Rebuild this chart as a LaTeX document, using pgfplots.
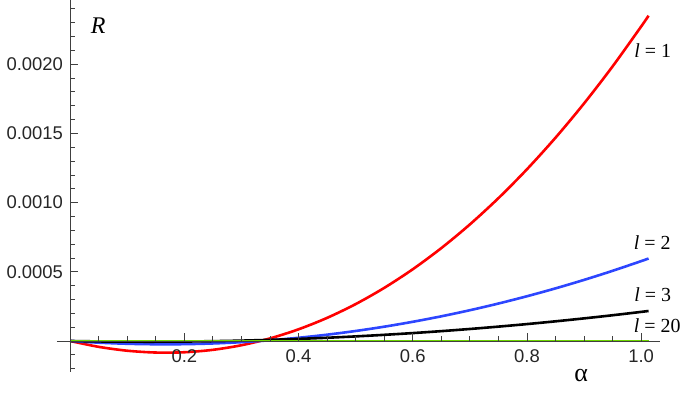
\documentclass[border=0pt]{standalone}
\usepackage{pgfplots}
\pgfplotsset{compat=1.18}
\usepackage{fontspec}
\setmainfont{Liberation Sans}
\newfontfamily\timesf{Liberation Serif}

\definecolor{cRed}{RGB}{255,0,0}
\definecolor{cBlue}{RGB}{45,70,255}
\definecolor{cGreen}{RGB}{110,215,0}

% alpha, R for l = 1, 2, 3, 20
\pgfplotstableread{
a      l1          l2          l3          l20
0      0           0           0           0
0.05  -0.0000424  -0.0000122  -0.0000032   0
0.10  -0.0000704  -0.0000202  -0.0000049   0
0.15  -0.0000835  -0.0000237  -0.0000052   0
0.20  -0.0000815  -0.0000230  -0.0000040   0
0.25  -0.0000640  -0.0000179  -0.0000014   0
0.30  -0.0000307  -0.0000086   0.0000026   0
0.35   0.0000186   0.0000051   0.0000081   0
0.40   0.0000844   0.0000232   0.0000150   0
0.45   0.0001669   0.0000455   0.0000233   0
0.50   0.0002665   0.0000722   0.0000331   0
0.55   0.0003835   0.0001032   0.0000444   0
0.60   0.0005182   0.0001386   0.0000570   0
0.65   0.0006710   0.0001782   0.0000711   0
0.70   0.0008421   0.0002222   0.0000867   0
0.75   0.0010319   0.0002705   0.0001037   0
0.80   0.0012407   0.0003232   0.0001221   0
0.85   0.0014689   0.0003801   0.0001420   0
0.90   0.0017166   0.0004414   0.0001633   0
0.95   0.0019844   0.0005070   0.0001860   0
1.00   0.0022725   0.0005770   0.0002102   0
1.013  0.0023507   0.0005958   0.0002168   0
}\data

\begin{document}
\begin{tikzpicture}
\useasboundingbox (-57bp,-24.3bp) rectangle (632bp,371.7bp);
\begin{axis}[
  at={(0,0)}, anchor=south west,
  scale only axis, width=603bp, height=371.7bp,
  xmin=-0.023, xmax=1.033, ymin=-0.000222, ymax=0.002464,
  axis lines=middle, axis on top, clip=false,
  axis line style={-, black!75, line width=0.8bp},
  tick align=inside,
  major tick length=8bp, minor tick length=4.5bp,
  every tick/.style={black!75, line width=0.8bp},
  scaled x ticks=false, scaled y ticks=false,
  xtick={0.2,0.4,0.6,0.8,1.0},
  xticklabels={0.2,0.4,0.6,0.8,1.0},
  minor xtick={0.05,0.1,0.15,0.25,0.3,0.35,0.45,0.5,0.55,0.65,0.7,0.75,0.85,0.9,0.95},
  ytick={0.0005,0.0010,0.0015,0.0020},
  yticklabels={0.0005,0.0010,0.0015,0.0020},
  minor ytick={-0.0002,-0.0001,0.0001,0.0002,0.0003,0.0004,0.0006,0.0007,0.0008,0.0009,0.0011,0.0012,0.0013,0.0014,0.0016,0.0017,0.0018,0.0019,0.0021,0.0022,0.0023,0.0024},
  tick label style={font=\fontsize{18.5}{20}\selectfont, text=black!85},
  xticklabel style={inner sep=0pt, anchor=north, yshift=-8bp},
  yticklabel style={inner sep=0pt, anchor=east, xshift=-7bp},
]
\addplot[cRed, line width=2.6bp, smooth] table[x=a, y=l1] {\data};
\addplot[cBlue, line width=2.6bp, smooth] table[x=a, y=l2] {\data};
\addplot[black, line width=2.6bp, smooth] table[x=a, y=l3] {\data};
\addplot[cGreen, line width=2.6bp] table[x=a, y=l20] {\data};

\node[anchor=base west, inner sep=0pt, font=\timesf\fontsize{20}{22}\selectfont] at (axis cs:0.9877,0.002045) {\textit{l} = 1};
\node[anchor=base west, inner sep=0pt, font=\timesf\fontsize{20}{22}\selectfont] at (axis cs:0.9869,0.000658) {\textit{l} = 2};
\node[anchor=base west, inner sep=0pt, font=\timesf\fontsize{20}{22}\selectfont] at (axis cs:0.9877,0.000284) {\textit{l} = 3};
\node[anchor=base west, inner sep=0pt, font=\timesf\fontsize{20}{22}\selectfont] at (axis cs:0.9869,0.0000578) {\textit{l} = 20};
\node[inner sep=0pt, font=\timesf\fontsize{24}{26}\selectfont] at (axis cs:0.049,0.002276) {\textit{R}};
\node[inner sep=0pt, font=\timesf\fontsize{26}{28}\selectfont] at (axis cs:0.895,-0.000246) {α};
\end{axis}
\end{tikzpicture}
\end{document}
